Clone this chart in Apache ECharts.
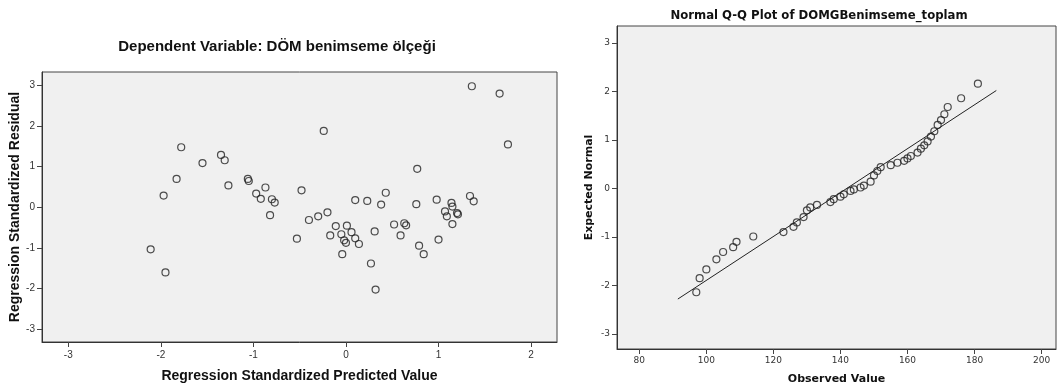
<!DOCTYPE html>
<html>
<head>
<meta charset="utf-8">
<script src="https://cdn.jsdelivr.net/npm/echarts@6/dist/echarts.min.js"></script>
<style>
  html, body { margin: 0; padding: 0; background: #ffffff; }
  #chart { width: 1057px; height: 390px; }
</style>
</head>
<body>
<div id="chart"></div>
<script>
// residual plot: standardized predicted value vs standardized residual
const predictedValues = [
  1.36, 1.66, -0.24, 1.75, -1.78, -1.35, -1.31, -1.55, 0.77, -1.83,
  -1.06, -1.05, -1.27, -0.87, -0.48, 0.43, -1.97, -0.97, 1.34, -0.92,
  -0.80, 0.10, 0.23, 0.98, 1.38, -0.77, 0.38, 0.76, 1.14, 1.15,
  1.07, -0.20, 1.20, 1.21, -0.82, -0.30, 1.09, -0.40, 0.63, 0.65,
  0.52, 1.15, -0.11, 0.01, 0.31, 0.06, -0.05, -0.17, 0.59, 0.10,
  -0.53, -0.02, 0.00, 0.14, 1.00, 0.79, 0.84, -0.04, -2.11, 0.27,
  -1.95, 0.32
];
const residuals = [
  2.98, 2.80, 1.88, 1.55, 1.48, 1.29, 1.16, 1.09, 0.95, 0.70,
  0.70, 0.65, 0.54, 0.49, 0.42, 0.36, 0.29, 0.34, 0.28, 0.21,
  0.20, 0.18, 0.16, 0.19, 0.15, 0.12, 0.07, 0.08, 0.11, 0.02,
  -0.10, -0.12, -0.14, -0.17, -0.19, -0.22, -0.22, -0.31, -0.39, -0.44,
  -0.42, -0.41, -0.46, -0.45, -0.59, -0.61, -0.66, -0.69, -0.69, -0.76,
  -0.77, -0.81, -0.87, -0.90, -0.79, -0.94, -1.15, -1.15, -1.03, -1.38,
  -1.60, -2.02
];

// normal Q-Q plot
const observedValues = [
  97, 98, 100, 103, 105, 108, 109, 114, 123, 126, 127, 129, 130, 131, 133,
  137, 138, 140, 141, 143, 144, 146, 147, 149, 150, 151, 152, 155, 157, 159,
  160, 161, 163, 164, 165, 166, 167, 168, 169, 170, 171, 172, 176, 181
];
const expectedNormal = [
  -2.14, -1.85, -1.67, -1.46, -1.31, -1.21, -1.10, -0.99, -0.90, -0.79, -0.70, -0.59, -0.45, -0.39, -0.34,
  -0.28, -0.22, -0.17, -0.12, -0.05, -0.02, 0.02, 0.06, 0.14, 0.27, 0.36, 0.44, 0.48, 0.53, 0.57,
  0.62, 0.67, 0.74, 0.82, 0.89, 0.97, 1.07, 1.18, 1.31, 1.41, 1.53, 1.68, 1.86, 2.16
];
const qqLineX = [91.5, 186.5];
const qqLineY = [-2.28, 2.02];

const residualTicksX = [-3, -2, -1, 0, 1, 2];
const residualTicksY = [-3, -2, -1, 0, 1, 2, 3];
const observedTicks = [80, 100, 120, 140, 160, 180, 200];
const expectedTicks = [-3, -2, -1, 0, 1, 2, 3];

const leftFont = '"Liberation Sans", Arial, sans-serif';
const rightFont = '"DejaVu Sans", sans-serif';

function axisCommon(ticks, font, margin, size) {
  return {
    axisLine: { show: true, onZero: false, lineStyle: { color: '#333', width: 1 } },
    axisTick: { show: true, customValues: ticks, length: 5, lineStyle: { color: '#444', width: 1 } },
    axisLabel: {
      customValues: ticks,
      margin,
      color: '#333',
      fontSize: size,
      fontFamily: font,
    },
    splitLine: { show: false },
  };
}

const chart = echarts.init(document.getElementById('chart'), null, { renderer: 'canvas' });

chart.setOption({
  animation: false,
  backgroundColor: '#ffffff',
  title: [
    {
      text: 'Dependent Variable: DÖM benimseme ölçeği',
      left: 272,
      top: 34,
      textAlign: 'center',
      textStyle: { fontFamily: leftFont, fontSize: 15, fontWeight: 'bold', color: '#111' },
    },
    {
      text: 'Normal Q-Q Plot of DOMGBenimseme_toplam',
      left: 814,
      top: 5,
      textAlign: 'center',
      textStyle: { fontFamily: rightFont, fontSize: 11.7, fontWeight: 'bold', color: '#111' },
    },
  ],
  grid: [
    {
      left: 42, top: 72, width: 515, height: 270,
      show: true, backgroundColor: '#f0f0f0', borderColor: '#444', borderWidth: 1,
    },
    {
      left: 617, top: 26, width: 439, height: 327,
      show: true, backgroundColor: '#f0f0f0', borderColor: '#444', borderWidth: 1,
    },
  ],
  xAxis: [
    {
      gridIndex: 0,
      type: 'value',
      min: -3.284,
      max: 2.28,
      name: 'Regression Standardized Predicted Value',
      nameLocation: 'middle',
      nameGap: 27,
      nameTextStyle: { fontFamily: leftFont, fontSize: 14, fontWeight: 'bold', color: '#111' },
      ...axisCommon(residualTicksX, leftFont, 8, 10),
    },
    {
      gridIndex: 1,
      type: 'value',
      min: 73.35,
      max: 204.3,
      name: 'Observed Value',
      nameLocation: 'middle',
      nameGap: 25,
      nameTextStyle: { fontFamily: rightFont, fontSize: 11, fontWeight: 'bold', color: '#111' },
      ...axisCommon(observedTicks, rightFont, 7, 9),
    },
  ],
  yAxis: [
    {
      gridIndex: 0,
      type: 'value',
      min: -3.31,
      max: 3.33,
      name: 'Regression Standardized Residual',
      nameLocation: 'middle',
      nameGap: 20,
      nameTextStyle: { fontFamily: leftFont, fontSize: 14, fontWeight: 'bold', color: '#111' },
      ...axisCommon(residualTicksY, leftFont, 7, 10),
    },
    {
      gridIndex: 1,
      type: 'value',
      min: -3.31,
      max: 3.35,
      name: 'Expected Normal',
      nameLocation: 'middle',
      nameGap: 22,
      nameTextStyle: { fontFamily: rightFont, fontSize: 11, fontWeight: 'bold', color: '#111' },
      ...axisCommon(expectedTicks, rightFont, 7, 9),
    },
  ],
  series: [
    {
      type: 'scatter',
      xAxisIndex: 0,
      yAxisIndex: 0,
      symbol: 'circle',
      symbolSize: 7,
      itemStyle: { color: 'rgba(0,0,0,0)', borderColor: '#222', borderWidth: 1.2 },
      data: predictedValues.map((x, i) => [x, residuals[i]]),
    },
    {
      type: 'line',
      xAxisIndex: 1,
      yAxisIndex: 1,
      showSymbol: false,
      symbol: 'none',
      lineStyle: { color: '#222', width: 1 },
      data: qqLineX.map((x, i) => [x, qqLineY[i]]),
      z: 2,
    },
    {
      type: 'scatter',
      xAxisIndex: 1,
      yAxisIndex: 1,
      symbol: 'circle',
      symbolSize: 7,
      itemStyle: { color: 'rgba(0,0,0,0)', borderColor: '#222', borderWidth: 1.2 },
      data: observedValues.map((x, i) => [x, expectedNormal[i]]),
      z: 3,
    },
  ],
});
</script>
</body>
</html>
